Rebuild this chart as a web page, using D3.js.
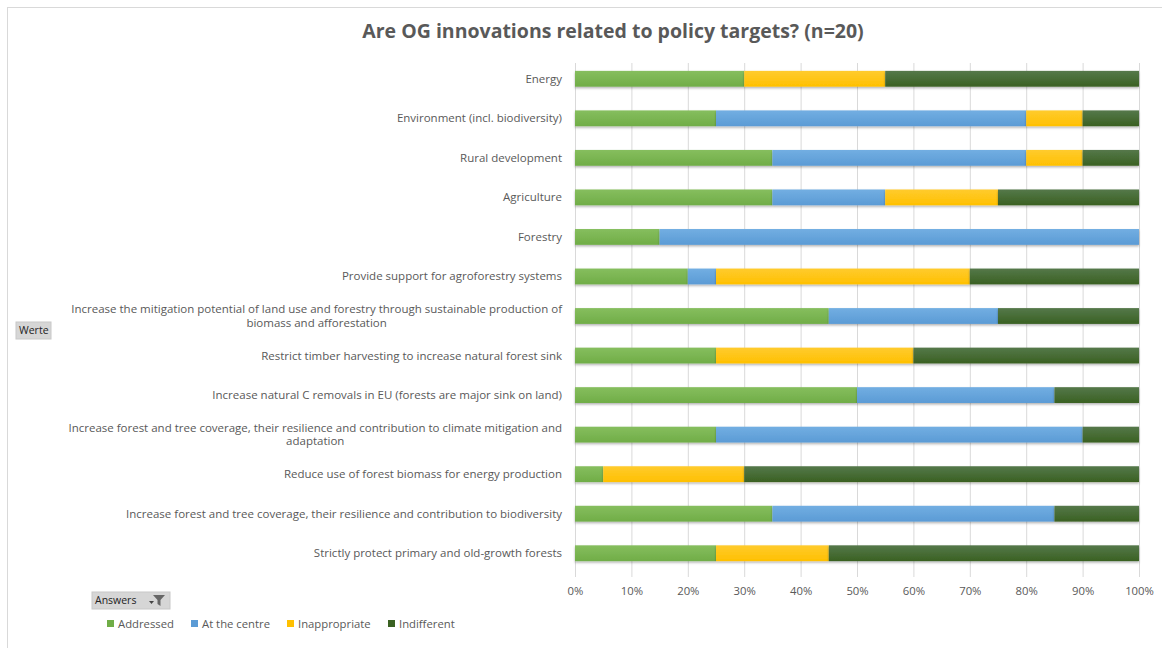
<!DOCTYPE html>
<html>
<head>
<meta charset="utf-8">
<script src="https://cdn.jsdelivr.net/npm/d3@7"></script>
<style>
  html, body { margin: 0; padding: 0; background: #fff; }
  svg { display: block; font-family: "Open Sans", "Liberation Sans", sans-serif; }
</style>
</head>
<body>
<svg id="chart" width="1162" height="648"></svg>
<script>
// Policy targets, top to bottom
const categories = [
  "Energy",
  "Environment (incl. biodiversity)",
  "Rural development",
  "Agriculture",
  "Forestry",
  "Provide support for agroforestry systems",
  "Increase the mitigation potential of land use and forestry through sustainable production of biomass and afforestation",
  "Restrict timber harvesting to increase natural forest sink",
  "Increase natural C removals in EU (forests are major sink on land)",
  "Increase forest and tree coverage, their resilience and contribution to climate mitigation and adaptation",
  "Reduce use of forest biomass for energy production",
  "Increase forest and tree coverage, their resilience and contribution to biodiversity",
  "Strictly protect primary and old-growth forests"
];

const seriesNames = ["Addressed", "At the centre", "Inappropriate", "Indifferent"];

// Share of answers (%) per category, same order as categories
const addressed     = [30, 25, 35, 35, 15, 20, 45, 25, 50, 25,  5, 35, 25];
const atTheCentre   = [ 0, 55, 45, 20, 85,  5, 30,  0, 35, 65,  0, 50,  0];
const inappropriate = [25, 10, 10, 20,  0, 45,  0, 35,  0,  0, 25,  0, 20];
const indifferent   = [45, 10, 10, 25,  0, 30, 25, 40, 15, 10, 70, 15, 55];

const xTicks = [0, 10, 20, 30, 40, 50, 60, 70, 80, 90, 100];

const colors = ["#70AD47", "#5B9BD5", "#FFC000", "#3A6122"];
const lightColors = ["#86BE5E", "#72AEE2", "#FFCB2E", "#55784A"];

const rows = categories.map((c, i) => ({
  category: c,
  "Addressed": addressed[i],
  "At the centre": atTheCentre[i],
  "Inappropriate": inappropriate[i],
  "Indifferent": indifferent[i]
}));

const svg = d3.select("#chart");
const W = 1162, H = 648;
const margin = { left: 575, right: 23, top: 59, bottom: 75 };

// outer chart frame
svg.append("rect")
  .attr("x", 7.5).attr("y", 7.5)
  .attr("width", W).attr("height", H)
  .attr("fill", "none").attr("stroke", "#d9d9d9");

// gradients for bar fills
const defs = svg.append("defs");
colors.forEach((c, i) => {
  const g = defs.append("linearGradient")
    .attr("id", "grad" + i)
    .attr("x1", 0).attr("y1", 0).attr("x2", 0).attr("y2", 1);
  g.append("stop").attr("offset", "0%").attr("stop-color", lightColors[i]);
  g.append("stop").attr("offset", "100%").attr("stop-color", c);
});
const filt = defs.append("filter").attr("id", "shadow")
  .attr("x", "-5%").attr("y", "-30%").attr("width", "110%").attr("height", "180%");
filt.append("feDropShadow")
  .attr("dx", 0).attr("dy", 1.5).attr("stdDeviation", 1)
  .attr("flood-color", "#000").attr("flood-opacity", 0.3);

const x = d3.scaleLinear().domain([0, 100]).range([margin.left, W - margin.right]);
const y = d3.scaleBand().domain(categories)
  .range([margin.top, H - margin.bottom])
  .paddingInner(0.6).paddingOuter(0.3);

// title
svg.append("text")
  .attr("x", 613).attr("y", 37.5)
  .attr("text-anchor", "middle")
  .attr("font-size", 19.5).attr("font-weight", "bold")
  .attr("fill", "#595959")
  .text("Are OG innovations related to policy targets? (n=20)");

// vertical gridlines
const gridBottom = H - margin.bottom + 4;
svg.append("g")
  .selectAll("line")
  .data(xTicks)
  .join("line")
  .attr("x1", d => x(d) + 0.5).attr("x2", d => x(d) + 0.5)
  .attr("y1", margin.top + 4).attr("y2", gridBottom)
  .attr("stroke", "#d9d9d9").attr("stroke-width", 1);

// x axis labels
const xAxis = d3.axisBottom(x).tickValues(xTicks).tickFormat(d => d + "%").tickSize(0).tickPadding(10);
const gx = svg.append("g").attr("transform", `translate(0,${gridBottom})`).call(xAxis);
gx.select(".domain").remove();
gx.selectAll("text").attr("fill", "#595959").attr("font-size", 11.3)
  .attr("font-family", "\"Open Sans\", sans-serif");

// stacked bars
const stack = d3.stack().keys(seriesNames);
const layers = stack(rows);
svg.append("g")
  .selectAll("g")
  .data(layers)
  .join("g")
  .attr("fill", (d, i) => `url(#grad${i})`)
  .attr("filter", "url(#shadow)")
  .selectAll("rect")
  .data(d => d.filter(s => s[1] - s[0] > 0))
  .join("rect")
  .attr("x", d => x(d[0]))
  .attr("width", d => x(d[1]) - x(d[0]))
  .attr("y", d => y(d.data.category))
  .attr("height", y.bandwidth());

// category labels, wrapped and centered per block, right-aligned to axis
const labelRight = margin.left - 13;
const maxLabelWidth = 505;
const fontSize = 11.5;
const measure = svg.append("text").attr("font-size", fontSize).attr("visibility", "hidden");
function textWidth(s) { measure.text(s); return measure.node().getComputedTextLength(); }
function wrap(s) {
  const words = s.split(" ");
  const lines = [];
  let cur = "";
  words.forEach(w => {
    const t = cur ? cur + " " + w : w;
    if (textWidth(t) > maxLabelWidth && cur) { lines.push(cur); cur = w; }
    else cur = t;
  });
  if (cur) lines.push(cur);
  return lines;
}
const lblG = svg.append("g");
categories.forEach(c => {
  const lines = wrap(c);
  const widest = d3.max(lines, textWidth);
  const cx = labelRight - widest / 2;
  const cy = y(c) + y.bandwidth() / 2;
  const lh = 13.5;
  const t = lblG.append("text")
    .attr("text-anchor", "middle")
    .attr("font-size", fontSize)
    .attr("fill", "#595959");
  lines.forEach((ln, k) => {
    t.append("tspan")
      .attr("x", cx)
      .attr("y", cy + (k - (lines.length - 1) / 2) * lh)
      .attr("dy", "0.35em")
      .text(ln);
  });
});
measure.remove();

// field buttons
function fieldButton(bx, by, bw, bh, label, withIcons) {
  const g = svg.append("g");
  g.append("rect").attr("x", bx).attr("y", by).attr("width", bw).attr("height", bh)
    .attr("fill", "#d6d6d6").attr("stroke", "#c8c8c8");
  g.append("text").attr("x", bx + 3).attr("y", by + bh / 2).attr("dy", "0.35em")
    .attr("font-size", 10.5).attr("fill", "#222").text(label);
  if (withIcons) {
    g.append("path")
      .attr("d", `M${bx + 57},${by + 9} l5,0 l-2.5,3 z`).attr("fill", "#444");
    g.append("path")
      .attr("d", `M${bx + 61},${by + 3} l12,0 l-4.5,5 l0,6 l-3,-2 l0,-4 z`).attr("fill", "#666");
  }
}
fieldButton(16, 322, 35, 17, "Werte", false);
fieldButton(92, 592, 78, 17, "Answers", true);

// legend
const legendX = [107, 191, 287, 388];
const legend = svg.append("g");
seriesNames.forEach((n, i) => {
  legend.append("rect").attr("x", legendX[i]).attr("y", 620)
    .attr("width", 7).attr("height", 7).attr("fill", colors[i]);
  legend.append("text").attr("x", legendX[i] + 11).attr("y", 624).attr("dy", "0.35em")
    .attr("font-size", 11.3).attr("fill", "#595959").text(n);
});
</script>
</body>
</html>
